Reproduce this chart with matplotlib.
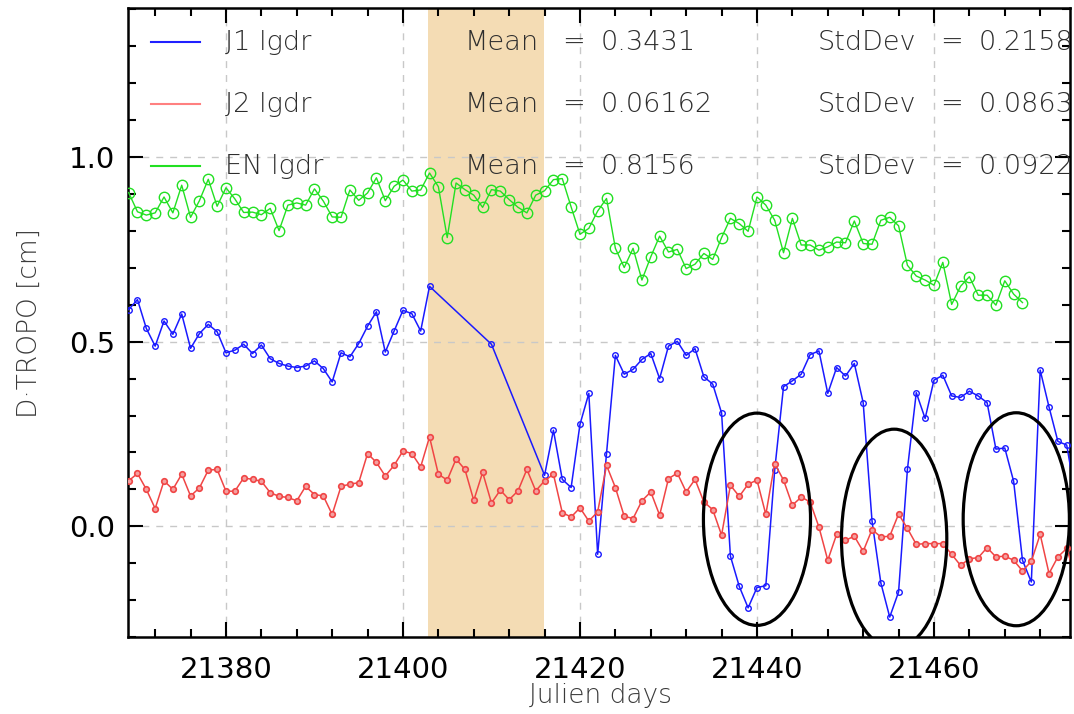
import numpy as np
import matplotlib
matplotlib.use("Agg")
import matplotlib.pyplot as plt
from matplotlib.patches import Ellipse
from matplotlib.ticker import MultipleLocator, FixedLocator

# daily tropo differences (cm)
en_days = np.arange(21369, 21471)
en_vals = [0.904, 0.852, 0.843, 0.849, 0.892, 0.849, 0.924, 0.837, 0.882, 0.940,
           0.867, 0.917, 0.887, 0.850, 0.851, 0.844, 0.861, 0.801, 0.870, 0.876,
           0.870, 0.914, 0.881, 0.838, 0.837, 0.911, 0.883, 0.903, 0.944, 0.882,
           0.921, 0.938, 0.908, 0.911, 0.957,
           0.920, 0.782, 0.930, 0.912, 0.897, 0.864, 0.912, 0.908, 0.885, 0.864,
           0.849, 0.897, 0.909, 0.939, 0.942, 0.865, 0.791, 0.807, 0.854, 0.888,
           0.753, 0.701, 0.753, 0.667, 0.730, 0.786, 0.743, 0.750, 0.698, 0.710,
           0.739, 0.723, 0.782, 0.834, 0.820, 0.799,
           0.892, 0.870, 0.829, 0.741, 0.834, 0.762, 0.762, 0.748, 0.757, 0.770,
           0.768, 0.827, 0.766, 0.764, 0.829, 0.837, 0.814, 0.707, 0.678, 0.667,
           0.653, 0.715, 0.601, 0.650, 0.676, 0.626, 0.626, 0.599, 0.665, 0.629,
           0.606]

j1_days = np.concatenate([np.arange(21369, 21404), [21410], np.arange(21416, 21477)])
j1_vals = [0.587, 0.614, 0.536, 0.488, 0.556, 0.520, 0.575, 0.482, 0.522, 0.547,
           0.527, 0.470, 0.477, 0.493, 0.468, 0.491, 0.454, 0.441, 0.434, 0.430,
           0.434, 0.448, 0.427, 0.391, 0.470, 0.459, 0.495, 0.542, 0.581, 0.472,
           0.529, 0.585, 0.576, 0.529, 0.650,
           0.493,
           0.138, 0.260, 0.127, 0.105, 0.276, 0.360, -0.076, 0.197, 0.463, 0.412,
           0.425, 0.452, 0.468, 0.400, 0.488, 0.501, 0.463, 0.481, 0.405, 0.385,
           0.307, -0.081, -0.163, -0.221, -0.166, -0.161, 0.152, 0.378, 0.394, 0.412,
           0.465, 0.475, 0.360, 0.430, 0.407, 0.441, 0.335, 0.014, -0.154, -0.246,
           -0.178, 0.154, 0.362, 0.292, 0.396, 0.409, 0.353, 0.349, 0.366, 0.353,
           0.335, 0.209, 0.212, 0.122, -0.092, -0.151, 0.423, 0.323, 0.230, 0.220,
           0.080]

j2_days = np.arange(21369, 21477)
j2_vals = [0.123, 0.143, 0.100, 0.048, 0.123, 0.100, 0.141, 0.082, 0.104, 0.152,
           0.154, 0.095, 0.095, 0.131, 0.127, 0.122, 0.091, 0.081, 0.078, 0.069,
           0.108, 0.086, 0.082, 0.032, 0.108, 0.114, 0.118, 0.197, 0.173, 0.136,
           0.165, 0.204, 0.197, 0.161, 0.242, 0.141,
           0.125, 0.182, 0.154, 0.070, 0.146, 0.063, 0.098, 0.072, 0.096, 0.154,
           0.096, 0.123, 0.141, 0.037, 0.025, 0.050, 0.014, 0.039, 0.165, 0.105,
           0.027, 0.021, 0.069, 0.093, 0.030, 0.129, 0.144, 0.093, 0.127, 0.066,
           0.045, -0.024, 0.111, 0.081, 0.114,
           0.125, 0.032, 0.170, 0.125, 0.057, 0.079, 0.066, -0.002, -0.092, -0.022,
           -0.038, -0.027, -0.068, -0.009, -0.029, -0.027, 0.033, -0.006, -0.049, -0.047,
           -0.047, -0.047, -0.076, -0.106, -0.088, -0.085, -0.058, -0.083, -0.081, -0.092,
           -0.121, -0.095, -0.022, -0.128, -0.083, -0.060, -0.140]

labels = ["J1 lgdr", "J2 lgdr", "EN lgdr"]
means = ["0.3431", "0.06162", "0.8156"]
stds = ["0.2158", "0.0863", "0.0922"]

# maneuver window and the three suspicious drops
span = (21402.8, 21415.9)
circles = [(21440.0, 0.019, 12.1, 0.575),
           (21455.5, -0.034, 11.9, 0.594),
           (21469.3, 0.019, 12.0, 0.577)]

blue, red, green = "#1a1aff", "#f04545", "#22e022"
legend_colors = ["#2020ff", "#ff8080", "#22e022"]
gray = "#2e2e2e"

fig = plt.figure(figsize=(10.74, 7.14), dpi=100)
ax = fig.add_axes([128 / 1074, 1 - 637 / 714, 942 / 1074, 629 / 714])

ax.axvspan(*span, color="#f4dcb4", lw=0, zorder=0)

ax.plot(en_days, en_vals, color=green, lw=1, marker="o", ms=7.5, mfc="none",
        mew=1, zorder=3)
ax.plot(j1_days, j1_vals, color=blue, lw=1.1, marker="o", ms=4, mfc="none",
        mew=1, zorder=3)
ax.plot(j2_days, j2_vals, color=red, lw=1.1, marker="o", ms=4, mfc="#f4a0a0",
        mew=1.2, zorder=3)

for cx, cy, w, h in circles:
    ax.add_patch(Ellipse((cx, cy), w, h, fill=False, ec="black", lw=2.3, zorder=4))

ax.set_xlim(21368.93, 21475.37)
ax.set_ylim(-0.30, 1.404)

ax.xaxis.set_major_locator(MultipleLocator(20))
ax.xaxis.set_minor_locator(MultipleLocator(4))
ax.yaxis.set_major_locator(FixedLocator([0.0, 0.5, 1.0]))
ax.yaxis.set_minor_locator(MultipleLocator(0.1))
ax.yaxis.set_major_formatter(plt.FuncFormatter(lambda v, p: f"{v:.1f}"))

ax.tick_params(which="both", direction="in", top=True, right=True, width=1.5,
               color="black")
ax.tick_params(which="major", length=11, labelsize=21, pad=14)
ax.tick_params(which="minor", length=5.5)
ax.tick_params(axis="y", which="major", pad=9)
for s in ax.spines.values():
    s.set_linewidth(1.8)

ax.grid(True, which="major", color="#c8c8c8", ls=(0, (5, 5)), lw=1)
ax.set_axisbelow(True)

# legend block drawn as text rows, clipped at the right spine
rows_y = [0.9332, 0.8346, 0.7360]
for i in range(3):
    y = rows_y[i]
    ax.plot([0.0244, 0.0764], [y + 0.0135, y + 0.0135], transform=ax.transAxes,
            color=legend_colors[i], lw=1.5, zorder=5)
    kw = dict(transform=ax.transAxes, fontsize=19.5, color=gray, va="baseline",
              ha="left", clip_on=True, zorder=5, fontweight="light")
    ax.text(0.103, y, labels[i], **kw)
    ax.text(0.3577, y, "Mean", **kw)
    ax.text(0.4607, y, "=", **kw)
    ax.text(0.502, y, means[i], **kw)
    ax.text(0.7325, y, "StdDev", **kw)
    ax.text(0.862, y, "=", **kw)
    ax.text(0.9034, y, stds[i], **kw)

fig.text(600 / 1074, 1 - 703 / 714, "Julien days", ha="center", va="baseline",
         fontsize=19, color="#3a3a3a", fontweight="light")
fig.text(29 / 1074, 1 - 323 / 714, "D\u00b7TROPO [cm]", ha="center", va="center",
         rotation=90, fontsize=19, color="#3a3a3a", fontweight="light")

fig.savefig("out.png", dpi=100)
